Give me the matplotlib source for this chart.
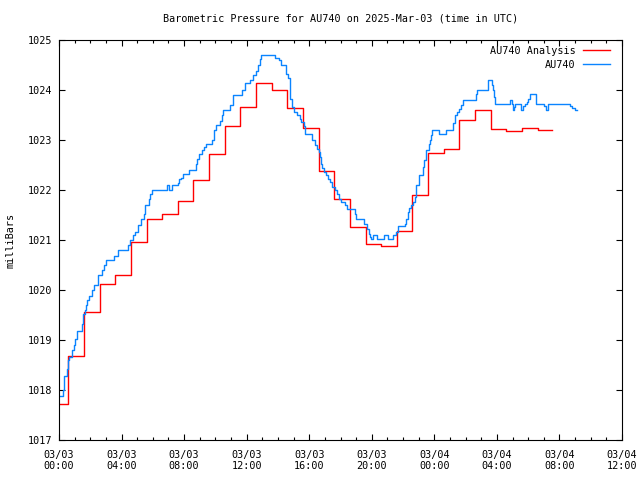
import matplotlib
matplotlib.use("Agg")
import matplotlib.pyplot as plt
import matplotlib.dates as mdates
import numpy as np
import pandas as pd

# hours after 2025-03-03 00:00 UTC
analysis_hours = [0.0, 0.6, 1.6, 2.6, 3.6, 4.6, 5.6, 6.6, 7.6, 8.6, 9.6, 10.6,
                  11.6, 12.6, 13.6, 14.6, 15.6, 16.6, 17.6, 18.6, 19.6, 20.6,
                  21.6, 22.6, 23.6, 24.6, 25.6, 26.6, 27.6, 28.6, 29.6, 30.6,
                  31.55]
analysis_mb = [1017.73, 1018.68, 1019.57, 1020.13, 1020.30, 1020.96, 1021.43,
               1021.52, 1021.79, 1022.21, 1022.73, 1023.28, 1023.67, 1024.13,
               1024.01, 1023.65, 1023.25, 1022.39, 1021.82, 1021.26, 1020.92,
               1020.89, 1021.19, 1021.91, 1022.75, 1022.83, 1023.41, 1023.61,
               1023.23, 1023.19, 1023.25, 1023.21, 1023.21]

obs_hours = [0.0, 0.28, 0.34, 0.49, 0.55, 0.66, 0.85, 0.94, 1.02, 1.13, 1.45,
             1.53, 1.66, 1.72, 1.79, 1.94, 2.13, 2.21, 2.51, 2.72, 2.89, 2.98,
             3.53, 3.78, 4.42, 4.52, 4.74, 4.89, 5.06, 5.23, 5.44, 5.52, 5.74,
             5.80, 5.95, 6.93, 7.04, 7.20, 7.60, 7.70, 7.83, 7.93, 8.32, 8.74,
             8.83, 8.95, 9.12, 9.25, 9.38, 9.76, 9.89, 10.06, 10.27, 10.40,
             10.48, 10.91, 11.12, 11.72, 11.87, 12.23, 12.40, 12.57, 12.72,
             12.87, 12.93, 13.78, 14.06, 14.21, 14.53, 14.64, 14.74, 14.80,
             14.88, 15.0, 15.2, 15.38, 15.5, 15.66, 15.70, 16.19, 16.34, 16.49,
             16.62, 16.70, 16.76, 16.83, 16.93, 17.08, 17.18, 17.3, 17.47,
             17.62, 17.77, 17.9, 18.05, 18.26, 18.41, 18.92, 19.01, 19.52,
             19.69, 19.8, 19.86, 19.97, 20.07, 20.33, 20.76, 21.03, 21.35,
             21.52, 21.67, 22.1, 22.2, 22.31, 22.41, 22.5, 22.66, 22.75, 22.83,
             22.99, 23.25, 23.36, 23.46, 23.63, 23.70, 23.77, 23.88, 24.3,
             24.73, 25.22, 25.33, 25.43, 25.58, 25.69, 25.84, 26.64, 26.71,
             27.45, 27.66, 27.73, 27.80, 27.86, 28.86, 28.95, 29.0, 29.08,
             29.17, 29.54, 29.65, 29.8, 29.9, 29.99, 30.14, 30.52, 31.0, 31.12,
             31.26, 32.65, 32.8, 32.97, 33.14]
obs_mb = [1017.89, 1018.0, 1018.29, 1018.43, 1018.6, 1018.67, 1018.8, 1018.9,
          1019.03, 1019.19, 1019.33, 1019.52, 1019.6, 1019.7, 1019.8, 1019.89,
          1020.0, 1020.1, 1020.3, 1020.4, 1020.51, 1020.6, 1020.68, 1020.8,
          1020.9, 1021.0, 1021.1, 1021.17, 1021.3, 1021.42, 1021.53, 1021.71,
          1021.83, 1021.93, 1022.01, 1022.1, 1022.01, 1022.1, 1022.15, 1022.23,
          1022.25, 1022.32, 1022.41, 1022.53, 1022.63, 1022.72, 1022.81,
          1022.87, 1022.92, 1023.0, 1023.2, 1023.3, 1023.38, 1023.5, 1023.61,
          1023.71, 1023.9, 1024.0, 1024.13, 1024.21, 1024.31, 1024.38,
          1024.51, 1024.62, 1024.71, 1024.63, 1024.6, 1024.51, 1024.33,
          1024.25, 1024.03, 1023.83, 1023.67, 1023.57, 1023.5, 1023.43,
          1023.37, 1023.29, 1023.12, 1023.0, 1022.91, 1022.83, 1022.77,
          1022.67, 1022.53, 1022.45, 1022.37, 1022.3, 1022.23, 1022.17,
          1022.07, 1022.0, 1021.92, 1021.83, 1021.77, 1021.7, 1021.62,
          1021.52, 1021.42, 1021.33, 1021.23, 1021.12, 1021.07, 1021.02,
          1021.1, 1021.02, 1021.1, 1021.02, 1021.1, 1021.17, 1021.28, 1021.33,
          1021.43, 1021.57, 1021.65, 1021.71, 1021.77, 1021.87, 1022.1,
          1022.3, 1022.47, 1022.61, 1022.8, 1022.93, 1023.01, 1023.1, 1023.21,
          1023.13, 1023.21, 1023.35, 1023.5, 1023.57, 1023.63, 1023.7,
          1023.81, 1023.93, 1024.01, 1024.2, 1024.1, 1024.0, 1023.87, 1023.72,
          1023.81, 1023.72, 1023.61, 1023.67, 1023.72, 1023.61, 1023.68,
          1023.73, 1023.77, 1023.83, 1023.92, 1023.72, 1023.68, 1023.61,
          1023.72, 1023.68, 1023.65, 1023.61, 1023.61]

start = pd.Timestamp("2025-03-03 00:00")


def to_time(hours):
    return start + pd.to_timedelta(np.asarray(hours), unit="h")


def main():
    plt.rcParams["font.family"] = "DejaVu Sans Mono"
    plt.rcParams["font.size"] = 7.3

    fig = plt.figure(figsize=(6.4, 4.8), dpi=100)
    ax = fig.add_axes([59 / 640, 40 / 480, 563 / 640, 400 / 480])

    ax.plot(to_time(analysis_hours), analysis_mb, drawstyle="steps-post",
            color="#ff0000", lw=1.0, label="AU740 Analysis")
    ax.plot(to_time(obs_hours), obs_mb, drawstyle="steps-post",
            color="#0a84ff", lw=1.0, label="AU740")

    ax.set_xlim(start, start + pd.Timedelta(hours=36))
    ax.set_ylim(1017, 1025)
    ax.set_yticks(np.arange(1017, 1026, 1))
    ax.yaxis.set_major_formatter(matplotlib.ticker.FormatStrFormatter("%d"))
    ax.xaxis.set_major_locator(mdates.HourLocator(byhour=range(0, 24, 4)))
    ax.xaxis.set_minor_locator(mdates.HourLocator())
    ax.xaxis.set_major_formatter(mdates.DateFormatter("%m/%d\n%H:%M"))

    ax.tick_params(which="both", direction="in", top=True, right=True,
                   color="black", width=0.8)
    ax.tick_params(which="major", length=4.5)
    ax.tick_params(which="minor", length=2.5)
    ax.tick_params(axis="x", pad=7)
    ax.tick_params(axis="y", pad=5)
    for s in ax.spines.values():
        s.set_linewidth(0.8)

    ax.set_ylabel("milliBars", labelpad=9)
    ax.set_title("Barometric Pressure for AU740 on 2025-Mar-03 (time in UTC)",
                 fontsize=7.3, pad=13)

    leg = ax.legend(loc="upper right", frameon=False, markerfirst=False,
                    handlelength=2.7, handletextpad=0.7, borderpad=0,
                    borderaxespad=0, labelspacing=0.35,
                    bbox_to_anchor=((610 - 59) / 563, (440 - 46) / 400))
    for t in leg.get_texts():
        t.set_ha("right")
    leg._legend_box.align = "right"

    fig.savefig("out.png", dpi=100)


if __name__ == "__main__":
    main()
